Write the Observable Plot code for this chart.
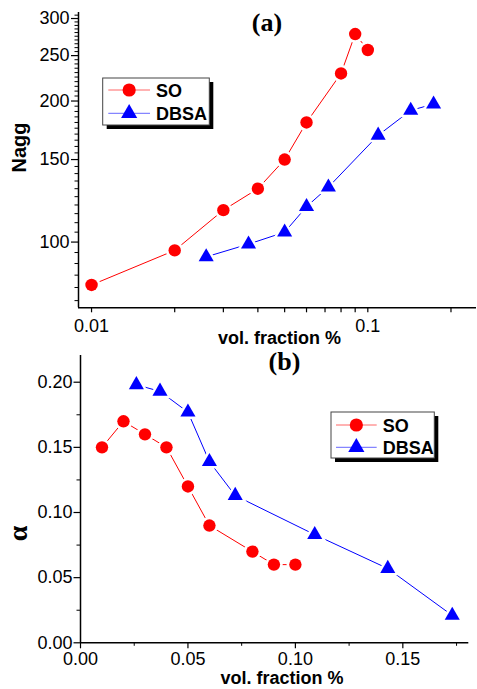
<!DOCTYPE html>
<html><head><meta charset="utf-8">
<script src="https://cdn.jsdelivr.net/npm/d3@7"></script>
<script src="https://cdn.jsdelivr.net/npm/@observablehq/plot@0.6"></script>
<style>
body{margin:0;background:#fff;}
#wrap{width:477px;height:689px;position:relative;background:#fff;}
#wrap svg{display:block;}
</style></head><body><div id="wrap"></div>
<script>
// ---- data ----
const seriesNames = ["SO", "DBSA"];
const seriesColors = ["#ff0000", "#0000ff"];
const seriesSymbols = ["circle", "triangle"];

// panel (a): aggregation number vs volume fraction
const soFracA = [0.01, 0.02, 0.03, 0.04, 0.05, 0.06, 0.08, 0.09, 0.10];
const soNagg = [81, 96, 117, 130, 150, 180, 229, 278, 257];
const dbsaFracA = [0.026, 0.037, 0.05, 0.06, 0.072, 0.109, 0.143, 0.173];
const dbsaNagg = [93, 99, 105, 119, 131, 169, 191, 197];

// panel (b): alpha vs volume fraction
const soFracB = [0.01, 0.02, 0.03, 0.04, 0.05, 0.06, 0.08, 0.09, 0.10];
const soAlpha = [0.15, 0.17, 0.16, 0.15, 0.12, 0.09, 0.07, 0.06, 0.06];
const dbsaFracB = [0.026, 0.037, 0.05, 0.06, 0.072, 0.109, 0.143, 0.173];
const dbsaAlpha = [0.198, 0.193, 0.177, 0.139, 0.113, 0.083, 0.057, 0.021];

// ticks and labels
const aXTicks = [0.01, 0.02, 0.03, 0.04, 0.05, 0.06, 0.07, 0.08, 0.09, 0.1, 0.2];
const aXLabels = ["0.01", "", "", "", "", "", "", "", "", "0.1", ""];
const aYMajor = [100, 150, 200, 250, 300];
const aYMinor = [75, 80, 85, 90, 95, 105, 110, 115, 120, 125, 130, 135, 140, 145,
  155, 160, 165, 170, 175, 180, 185, 190, 195, 205, 210, 215, 220, 225, 230, 235, 240, 245,
  255, 260, 265, 270, 275, 280, 285, 290, 295, 305];
const bXMajor = [0, 0.05, 0.10, 0.15];
const bXLabels = ["0.00", "0.05", "0.10", "0.15"];
const bXMinor = [0.025, 0.075, 0.125, 0.175];
const bYMajor = [0, 0.05, 0.10, 0.15, 0.20];
const bYLabels = ["0.00", "0.05", "0.10", "0.15", "0.20"];
const bYMinor = [0.025, 0.075, 0.125, 0.175];

const aXDomain = [0.00897, 0.2474];
const aYDomain = [72.4, 309];
const bXDomain = [0, 0.1807];
const bYDomain = [0, 0.2205];

const titleA = "(a)", titleB = "(b)";
const xLabel = "vol. fraction %";
const yLabelA = "Nagg", yLabelB = "α";

// ---- helpers ----
const rows = (xs, ys, s) => xs.map((x, i) => ({x, y: ys[i], s}));
const dataA = [rows(soFracA, soNagg, 0), rows(dbsaFracA, dbsaNagg, 1)];
const dataB = [rows(soFracB, soAlpha, 0), rows(dbsaFracB, dbsaAlpha, 1)];
const R = [6.2, 5.6];
const HALO = [2.6, 3.2];

function seriesMarks(data) {
  const m = [];
  data.forEach((d, i) => m.push(Plot.line(d, {x: "x", y: "y", stroke: seriesColors[i], strokeWidth: 1})));
  data.forEach((d, i) => m.push(Plot.dot(d, {x: "x", y: "y", symbol: seriesSymbols[i], r: R[i] + HALO[i], fill: "white", stroke: "none"})));
  data.forEach((d, i) => m.push(Plot.dot(d, {x: "x", y: "y", symbol: seriesSymbols[i], r: R[i], fill: seriesColors[i], stroke: "none"})));
  return m;
}

function legend(bx, by, bw, bh, ys, lx0, lx1, tx, tdy) {
  return () => {
    const g = d3.create("svg:g");
    g.append("rect").attr("x", bx + 4).attr("y", by + 4).attr("width", bw).attr("height", bh).attr("fill", "black");
    g.append("rect").attr("x", bx).attr("y", by).attr("width", bw).attr("height", bh)
      .attr("fill", "white").attr("stroke", "#444").attr("stroke-width", 1);
    seriesNames.forEach((name, i) => {
      const y = ys[i];
      g.append("line").attr("x1", lx0).attr("x2", lx1).attr("y1", y).attr("y2", y)
        .attr("stroke", seriesColors[i]).attr("stroke-opacity", 0.6).attr("stroke-width", 1);
      const sym = i === 0 ? d3.symbolCircle : d3.symbolTriangle;
      g.append("path").attr("d", d3.symbol(sym, Math.PI * (R[i] + 0.4) ** 2)())
        .attr("transform", `translate(${(lx0 + lx1) / 2},${y})`).attr("fill", seriesColors[i]);
      g.append("text").attr("x", tx).attr("y", y + tdy).text(name)
        .attr("text-anchor", "start")
        .attr("font-family", "Liberation Sans, Arial, sans-serif").attr("font-weight", "bold")
        .attr("font-size", 18).attr("fill", "black");
    });
    return g.node();
  };
}

const baseStyle = {background: "white", color: "black", fontFamily: "Liberation Sans, Arial, sans-serif", fontSize: "18px", overflow: "visible"};

// ---- panel (a) ----
const HA = 345;
const plotA = Plot.plot({
  width: 477, height: HA,
  marginLeft: 78, marginRight: 1, marginTop: 12, marginBottom: HA - 307.3,
  style: baseStyle,
  x: {type: "log", domain: aXDomain},
  y: {type: "log", domain: aYDomain},
  marks: [
    Plot.axisY({ticks: aYMinor, tickSize: 3.5, tickFormat: () => "", label: null, strokeWidth: 1}),
    Plot.axisY({ticks: aYMajor, tickSize: 7, tickPadding: 2, tickFormat: d => String(d), label: null, strokeWidth: 1.2}),
    Plot.axisX({ticks: aXTicks, tickSize: 5, tickPadding: 6.5, tickFormat: d => aXLabels[aXTicks.indexOf(d)], label: null, strokeWidth: 1.2}),
    Plot.ruleY([aYDomain[0]], {strokeWidth: 1.5}),
    Plot.ruleX([aXDomain[0]], {strokeWidth: 1.5}),
    ...seriesMarks(dataA),
    Plot.text([titleA], {frameAnchor: "top-left", dx: 188.5, dy: 18.5, lineAnchor: "bottom", textAnchor: "middle",
      fontFamily: "Liberation Serif, Times New Roman, serif", fontWeight: "bold", fontSize: 26}),
    Plot.text([xLabel], {frameAnchor: "bottom", dx: 2, dy: 35.7, lineAnchor: "bottom", fontWeight: "bold", fontSize: 18}),
    Plot.text([yLabelA], {frameAnchor: "left", dx: -53, dy: 12.3, rotate: -90, lineAnchor: "bottom", fontWeight: "bold", fontSize: 20}),
    legend(102.7, 78, 106.6, 47, [90, 113.3], 108.3, 150, 156, 7)
  ]
});

// ---- panel (b) ----
const HB = 344;
const plotB = Plot.plot({
  width: 477, height: HB,
  marginLeft: 80, marginRight: 477 - 468.3, marginTop: 10, marginBottom: HB - 297.3,
  style: baseStyle,
  x: {domain: bXDomain},
  y: {domain: bYDomain},
  marks: [
    Plot.axisY({ticks: bYMinor, tickSize: 3.5, tickFormat: () => "", label: null, strokeWidth: 1}),
    Plot.axisY({ticks: bYMajor, tickSize: 6.5, tickPadding: 1.5, tickFormat: d => bYLabels[bYMajor.indexOf(d)], label: null, strokeWidth: 1.2}),
    Plot.axisX({ticks: bXMinor, tickSize: 3.5, tickFormat: () => "", label: null, strokeWidth: 1}),
    Plot.axisX({ticks: bXMajor, tickSize: 6, tickPadding: 3.8, tickFormat: d => bXLabels[bXMajor.indexOf(d)], label: null, strokeWidth: 1.2}),
    Plot.ruleY([bYDomain[0]], {strokeWidth: 1.5}),
    Plot.ruleX([bXDomain[0]], {strokeWidth: 1.5}),
    ...seriesMarks(dataB),
    Plot.text([titleB], {frameAnchor: "top-left", dx: 204, dy: 14, lineAnchor: "bottom", textAnchor: "middle",
      fontFamily: "Liberation Serif, Times New Roman, serif", fontWeight: "bold", fontSize: 26}),
    Plot.text([xLabel], {frameAnchor: "bottom", dx: 7.4, dy: 41.2, lineAnchor: "bottom", fontWeight: "bold", fontSize: 18}),
    Plot.text([yLabelB], {frameAnchor: "left", dx: -54, dy: 42, rotate: -90, lineAnchor: "bottom",
      fontFamily: "Liberation Serif, Times New Roman, serif", fontWeight: "bold", fontSize: 28}),
    legend(331, 67, 103.3, 46, [80, 102.3], 336, 376.7, 382.7, 6.5)
  ]
});

const wrap = document.getElementById("wrap");
wrap.appendChild(plotA);
wrap.appendChild(plotB);
</script></body></html>
